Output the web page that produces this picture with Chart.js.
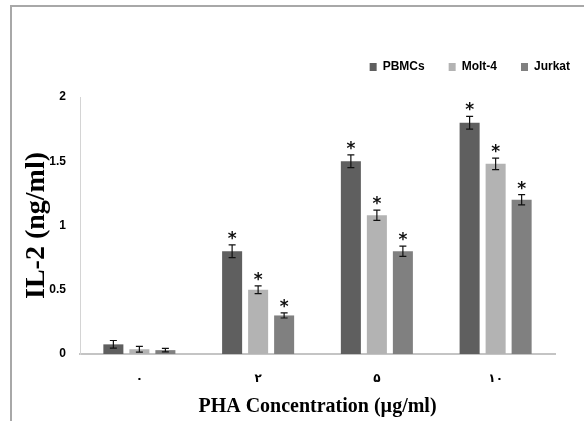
<!DOCTYPE html>
<html>
<head>
<meta charset="utf-8">
<script src="https://cdn.jsdelivr.net/npm/chart.js@4/dist/chart.umd.min.js"></script>
<style>
  html, body { margin: 0; padding: 0; width: 584px; height: 421px; overflow: hidden; background: #fff; }
  #frame { position: absolute; left: 10px; top: 5px; width: 700px; height: 500px;
           border-left: 2px solid #a8a8a8; border-top: 2px solid #a8a8a8; }
  #c { position: absolute; left: 0; top: 0; }
</style>
</head>
<body>
<div id="frame"></div>
<canvas id="c" width="594" height="421"></canvas>
<script>
// ---- data ----
const categories = ['۰', '۲', '۵', '۱۰'];
const seriesNames = ['PBMCs', 'Molt-4', 'Jurkat'];
const pbmcs  = [0.075, 0.80, 1.50, 1.80];
const molt4  = [0.037, 0.50, 1.08, 1.48];
const jurkat = [0.030, 0.30, 0.80, 1.20];
const errPbmcs  = [0.030, 0.050, 0.050, 0.050];
const errMolt4  = [0.022, 0.030, 0.040, 0.045];
const errJurkat = [0.013, 0.020, 0.040, 0.040];
const sigPbmcs  = ['', '*', '*', '*'];
const sigMolt4  = ['', '*', '*', '*'];
const sigJurkat = ['', '*', '*', '*'];
const yTicks = [0, 0.5, 1, 1.5, 2];
const yTickLabels = ['0', '0.5', '1', '1.5', '2'];

const errors = [errPbmcs, errMolt4, errJurkat];
const sigs = [sigPbmcs, sigMolt4, sigJurkat];

const errorBarPlugin = {
  id: 'errorBars',
  afterDatasetsDraw(chart) {
    const ctx = chart.ctx;
    const ys = chart.scales.y;
    chart.data.datasets.forEach((ds, i) => {
      const meta = chart.getDatasetMeta(i);
      meta.data.forEach((bar, j) => {
        const v = ds.data[j];
        const e = errors[i][j];
        const x = bar.x;
        const yt = ys.getPixelForValue(v + e);
        const yb = ys.getPixelForValue(v - e);
        ctx.save();
        ctx.strokeStyle = '#111';
        ctx.lineWidth = 1.2;
        ctx.beginPath();
        ctx.moveTo(x, yt); ctx.lineTo(x, yb);
        ctx.moveTo(x - 3.5, yt); ctx.lineTo(x + 3.5, yt);
        ctx.moveTo(x - 3.5, yb); ctx.lineTo(x + 3.5, yb);
        ctx.stroke();
        const s = sigs[i][j];
        if (s) {
          ctx.fillStyle = '#111';
          ctx.font = 'bold 17px "DejaVu Sans"';
          ctx.textAlign = 'center';
          ctx.textBaseline = 'alphabetic';
          ctx.fillText(s, x, yt - 1);
        }
        ctx.restore();
      });
    });
  }
};

new Chart(document.getElementById('c'), {
  type: 'bar',
  data: {
    labels: categories,
    datasets: [
      { label: seriesNames[0], data: pbmcs,  backgroundColor: '#5f5f5f' },
      { label: seriesNames[1], data: molt4,  backgroundColor: '#b3b3b3' },
      { label: seriesNames[2], data: jurkat, backgroundColor: '#808080' }
    ]
  },
  options: {
    responsive: false,
    animation: false,
    devicePixelRatio: 1,
    datasets: { bar: { categoryPercentage: 0.657, barPercentage: 0.77 } },
    layout: { padding: { top: 37, left: 0, right: 0, bottom: 0 } },
    plugins: {
      tooltip: { enabled: false },
      legend: {
        position: 'top',
        align: 'end',
        labels: {
          boxWidth: 7, boxHeight: 8, padding: 24, color: '#000',
          font: { family: '"Liberation Sans", Arial, sans-serif', size: 12, weight: 'bold' }
        }
      },
      // blank spacer between legend and plot area
      title: {
        display: true, text: ' ', position: 'top', weight: 500,
        font: { size: 10, lineHeight: 1.4 }, padding: { top: 0, bottom: 0 }
      }
    },
    scales: {
      x: {
        grid: { display: false, drawTicks: false },
        border: { color: '#c4c4c4', width: 2 },
        ticks: { color: '#000', padding: 17,
          font: { family: '"Liberation Sans", "DejaVu Sans", sans-serif', size: 12, weight: 'bold' } },
        title: { display: true, text: 'PHA Concentration (µg/ml)', color: '#000',
          font: { family: '"Liberation Serif", "Times New Roman", serif', size: 20, weight: 'bold' },
          padding: { top: 0, bottom: 2 } },
        afterFit: s => { s.height = 67; }
      },
      y: {
        min: 0, max: 2,
        afterBuildTicks: s => { s.ticks = yTicks.map(v => ({ value: v })); },
        grid: { display: false, drawTicks: false },
        border: { color: '#d4d4d4', width: 1 },
        ticks: { color: '#000', padding: 14,
          callback: (v, i) => yTickLabels[i],
          font: { family: '"Liberation Sans", Arial, sans-serif', size: 12, weight: 'bold' } },
        title: { display: true, text: 'IL-2 (ng/ml)', color: '#000',
          font: { family: '"Liberation Serif", "Times New Roman", serif', size: 28, weight: 'bold' },
          padding: { top: 20, bottom: 0 } },
        afterFit: s => { s.width = 80; }
      },
      yR: {
        type: 'linear', position: 'right', display: true,
        grid: { display: false, drawTicks: false },
        border: { display: false },
        ticks: { display: false },
        afterFit: s => { s.width = 39; }
      }
    }
  },
  plugins: [errorBarPlugin]
});
</script>
</body>
</html>
